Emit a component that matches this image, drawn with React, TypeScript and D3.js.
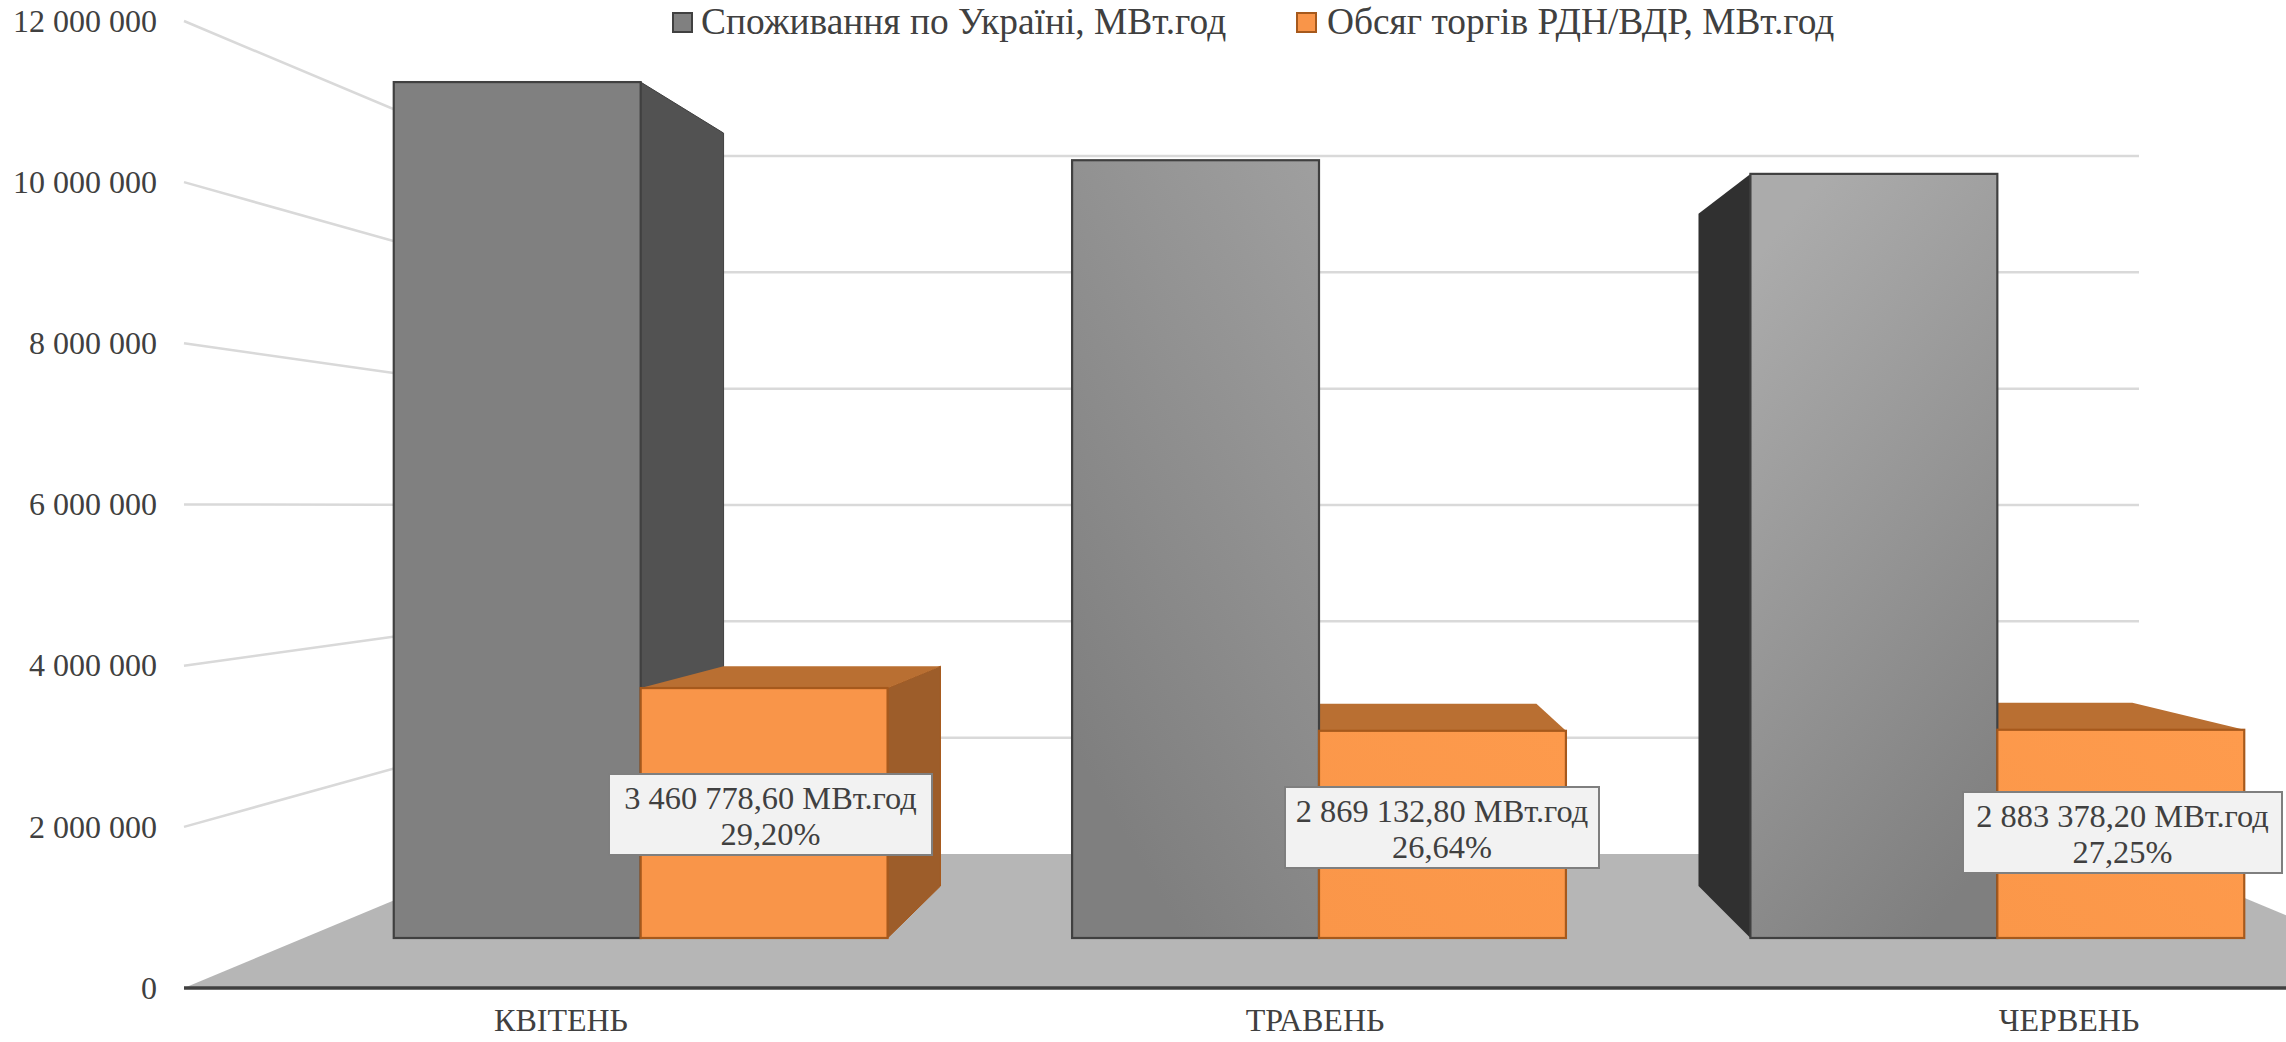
import React, { useEffect, useRef } from "react";
import * as d3 from "d3";

const months = ["КВІТЕНЬ", "ТРАВЕНЬ", "ЧЕРВЕНЬ"];
const consumption = [11852000, 10770000, 10581000];
const traded = [3460778.6, 2869132.8, 2883378.2];
const tradedLabels = ["3 460 778,60 МВт.год", "2 869 132,80 МВт.год", "2 883 378,20 МВт.год"];
const shareLabels = ["29,20%", "26,64%", "27,25%"];
const yTicks = [0, 2000000, 4000000, 6000000, 8000000, 10000000, 12000000];
const legendLabels = ["Споживання по Україні, МВт.год", "Обсяг торгів РДН/ВДР, МВт.год"];

// label boxes: left edge and top edge, in page pixels
const boxLeft = [609, 1285, 1963];
const boxTop = [774, 787, 792];
const boxWidth = [323, 314, 319];

const FONT = "'Liberation Serif', serif";
const TEXT = "#404040";
const width = 2286;
const height = 1042;

// fake 3d: the picture has a wall plane, the bar planes and a back wall
const vanishX = 1323;
const backScale = 0.8785;
const toBack = (x: number) => vanishX + (x - vanishX) * backScale;

function App() {
  const ref = useRef<SVGSVGElement>(null);

  useEffect(() => {
    document.body.style.margin = "0";
    document.body.style.overflow = "hidden";

    const svg = d3.select(ref.current);
    svg.selectAll("*").remove();

    const domain: [number, number] = [0, 12000000];
    const yAxis = d3.scaleLinear().domain(domain).range([988, 21]);
    const yWall = d3.scaleLinear().domain(domain).range([854, 156]);
    const yFront = d3.scaleLinear().domain(domain).range([938, 71.4]);
    const yBack = d3.scaleLinear().domain(domain).range([886, 123.7]);

    const xLabel = d3.scaleBand<string>().domain(months).range([184, 2446]);
    const xBars = d3.scaleBand<string>().domain(months).range([301.5, 2336.5])
      .paddingInner(0.272).paddingOuter(0.136);
    const xSeries = d3.scaleBand<number>().domain([0, 1]).range([0, xBars.bandwidth()]);

    const line = d3.line<[number, number]>();

    const defs = svg.append("defs");
    const addGradient = (id: string, x1: string, y1: string, x2: string, y2: string, from: string, to: string) => {
      const g = defs.append("linearGradient").attr("id", id)
        .attr("x1", x1).attr("y1", y1).attr("x2", x2).attr("y2", y2);
      g.append("stop").attr("offset", "0%").attr("stop-color", from);
      g.append("stop").attr("offset", "100%").attr("stop-color", to);
    };
    addGradient("gray0", "0", "0", "0", "1", "#808080", "#808080");
    addGradient("gray1", "1", "0", "0.45", "1", "#9f9f9f", "#7f7f7f");
    addGradient("gray2", "0.3", "0", "0.7", "1", "#ababab", "#7f7f7f");
    addGradient("orange0", "0", "0", "0", "1", "#f99549", "#f99549");
    addGradient("orange1", "1", "0", "0", "1", "#fd9a4c", "#fa9649");
    addGradient("orange2", "1", "0", "0", "1", "#fe9b4d", "#fb9749");

    // floor
    svg.append("path")
      .attr("d", line([
        [184, yAxis(0)], [505, yWall(0)], [2139, yWall(0)], [2460, yAxis(0)],
      ]) + "Z")
      .attr("fill", "#b6b6b6");

    // gridlines, side wall and back wall
    const grid = svg.append("g").attr("stroke", "#d9d9d9").attr("stroke-width", 2.5);
    yTicks.filter((t) => t > 0).forEach((t) => {
      grid.append("line").attr("x1", 184).attr("x2", 505).attr("y1", yAxis(t)).attr("y2", yWall(t));
      grid.append("line").attr("x1", 505).attr("x2", 2139).attr("y1", yWall(t)).attr("y2", yWall(t));
    });

    // axes
    const leftAxis = svg.append("g")
      .attr("transform", "translate(184,0)")
      .call(
        d3.axisLeft(yAxis).tickValues(yTicks).tickSize(0).tickPadding(27)
          .tickFormat((d) => d3.format(",")(d as number).replace(/,/g, " "))
      );
    leftAxis.select(".domain").remove();
    const bottomAxis = svg.append("g")
      .attr("transform", "translate(0,988)")
      .call(d3.axisBottom(xLabel).tickSize(0).tickPadding(20));
    bottomAxis.select(".domain").remove();
    svg.selectAll(".tick text")
      .attr("font-family", FONT)
      .attr("fill", TEXT);
    leftAxis.selectAll("text").attr("font-size", 32);
    bottomAxis.selectAll("text").attr("font-size", 32);

    svg.append("line")
      .attr("x1", 184).attr("x2", width).attr("y1", 988).attr("y2", 988)
      .attr("stroke", "#404040").attr("stroke-width", 3.5);

    const series = [
      { values: consumption, stroke: "#404040", grad: "gray", side: ["#525252", "#525252", "#303030"], top: "#6a6a6a" },
      { values: traded, stroke: "#a6591c", grad: "orange", side: ["#9d5d2a", "#9d5d2a", "#9d5d2a"], top: "#b96f32" },
    ];

    // tops and sides first, grey under orange
    series.forEach((s, si) => {
      months.forEach((m, i) => {
        const x0 = xBars(m)! + xSeries(si)!;
        const x1 = x0 + xSeries.bandwidth();
        const v = s.values[i];
        const g = svg.append("g").attr("stroke", "none").attr("stroke-linejoin", "round");
        if (toBack(x1) > x1) {
          g.append("path")
            .attr("d", line([
              [x1, yFront(v)], [toBack(x1), yBack(v)], [toBack(x1), yBack(0)], [x1, yFront(0)],
            ]) + "Z")
            .attr("fill", s.side[i]).attr("stroke", s.stroke).attr("stroke-width", 1);
        }
        if (toBack(x0) < x0) {
          g.append("path")
            .attr("d", line([
              [x0, yFront(v)], [toBack(x0), yBack(v)], [toBack(x0), yBack(0)], [x0, yFront(0)],
            ]) + "Z")
            .attr("fill", s.side[i]);
        }
        if (yBack(v) < yFront(v)) {
          g.append("path")
            .attr("d", line([
              [x0, yFront(v)], [toBack(x0), yBack(v)], [toBack(x1), yBack(v)], [x1, yFront(v)],
            ]) + "Z")
            .attr("fill", s.top);
        }
      });
    });

    // front faces
    series.forEach((s, si) => {
      svg.append("g")
        .selectAll("rect")
        .data(s.values)
        .enter()
        .append("rect")
        .attr("x", (d, i) => xBars(months[i])! + xSeries(si)!)
        .attr("y", (d) => yFront(d))
        .attr("width", xSeries.bandwidth())
        .attr("height", (d) => yFront(0) - yFront(d))
        .attr("fill", (d, i) => "url(#" + s.grad + i + ")")
        .attr("stroke", s.stroke)
        .attr("stroke-width", 2.2);
    });

    // data labels
    months.forEach((m, i) => {
      const g = svg.append("g").attr("transform", "translate(" + boxLeft[i] + "," + boxTop[i] + ")");
      g.append("rect")
        .attr("width", boxWidth[i]).attr("height", 81)
        .attr("fill", "#f2f2f2").attr("stroke", "#7f7f7f").attr("stroke-width", 2);
      g.selectAll("text")
        .data([tradedLabels[i], shareLabels[i]])
        .enter()
        .append("text")
        .attr("x", boxWidth[i] / 2)
        .attr("y", (d, k) => 35 + k * 36)
        .attr("text-anchor", "middle")
        .attr("font-family", FONT)
        .attr("font-size", 32.4)
        .attr("fill", TEXT)
        .text((d) => d);
    });

    // legend
    const legendX = [673, 1297];
    legendLabels.forEach((label, i) => {
      svg.append("rect")
        .attr("x", legendX[i]).attr("y", 13).attr("width", 19).attr("height", 19)
        .attr("fill", i === 0 ? "#808080" : "#f99549")
        .attr("stroke", series[i].stroke).attr("stroke-width", 2);
      svg.append("text")
        .attr("x", legendX[i] + 28 + i * 2).attr("y", 34)
        .attr("font-family", FONT).attr("font-size", 37.4).attr("fill", TEXT)
        .text(label);
    });
  }, []);

  return <svg ref={ref} width={width} height={height} style={{ position: "absolute", left: 0, top: 0, background: "#fff" }} />;
}

export default App;
